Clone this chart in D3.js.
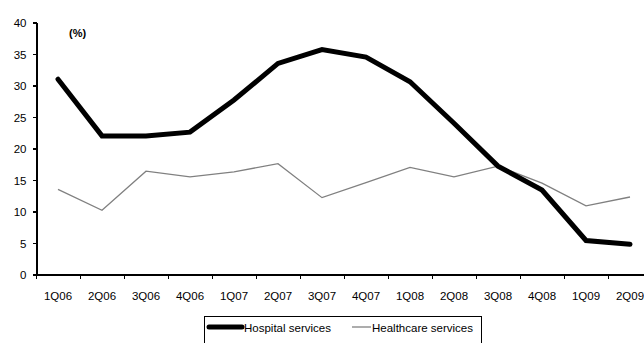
<!DOCTYPE html>
<html>
<head>
<meta charset="utf-8">
<script src="https://cdn.jsdelivr.net/npm/d3@7"></script>
<style>
  html, body { margin: 0; padding: 0; background: #fff; }
  svg { display: block; font-family: "Liberation Sans", Arial, sans-serif; }
  .axis text { font-size: 11.5px; fill: #000; }
  .axis path, .axis line { stroke: #000; stroke-width: 1.3px; shape-rendering: crispEdges; }
</style>
</head>
<body>
<svg id="chart" width="644" height="343"></svg>
<script>
// Quarterly growth, %
const quarters = ["1Q06","2Q06","3Q06","4Q06","1Q07","2Q07","3Q07","4Q07","1Q08","2Q08","3Q08","4Q08","1Q09","2Q09"];
const hospitalServices   = [31.0, 22.0, 22.0, 22.6, 27.7, 33.5, 35.7, 34.5, 30.6, 24.0, 17.2, 13.4, 5.4, 4.8];
const healthcareServices = [13.5, 10.2, 16.4, 15.5, 16.3, 17.6, 12.2, 14.6, 17.0, 15.5, 17.2, 14.5, 10.9, 12.3];
const yTicks = [0, 5, 10, 15, 20, 25, 30, 35, 40];
const seriesNames = ["Hospital services", "Healthcare services"];

const svg = d3.select("#chart");

const x = d3.scaleBand().domain(quarters).range([36, 652]).padding(0);
const xEdges = d3.scaleLinear().domain([0, quarters.length]).range([36, 652]);
const y = d3.scaleLinear().domain([0, 40]).range([274.5, 22.5]);

// Y axis
svg.append("g")
  .attr("class", "axis")
  .attr("transform", "translate(36.5,0)")
  .call(d3.axisLeft(y).tickValues(yTicks).tickSize(4).tickSizeOuter(0).tickPadding(6))
  .selectAll("text").attr("font-size", "12.5px").attr("dy", "0.36em");

// X axis line with ticks at category boundaries
svg.append("g")
  .attr("class", "axis")
  .attr("transform", "translate(0,274.5)")
  .call(d3.axisBottom(xEdges).tickValues(d3.range(quarters.length + 1)).tickSize(4).tickSizeOuter(0).tickFormat(""));

// X category labels
const xl = svg.append("g")
  .attr("class", "axis")
  .attr("transform", "translate(0,274.5)")
  .call(d3.axisBottom(x).tickSize(0).tickPadding(17));
xl.select(".domain").remove();

// Unit label
svg.append("text")
  .attr("x", 69).attr("y", 37)
  .attr("font-size", "11px").attr("font-weight", "bold")
  .text("(%)");

const line = d3.line()
  .x((d, i) => x(quarters[i]) + x.bandwidth() / 2)
  .y(d => y(d));

svg.append("path")
  .datum(healthcareServices)
  .attr("fill", "none")
  .attr("stroke", "#808080")
  .attr("stroke-width", 1.3)
  .attr("d", line);

svg.append("path")
  .datum(hospitalServices)
  .attr("fill", "none")
  .attr("stroke", "#000")
  .attr("stroke-width", 5)
  .attr("stroke-linejoin", "miter")
  .attr("stroke-linecap", "round")
  .attr("d", line);

// Legend
const legend = svg.append("g");
legend.append("rect")
  .attr("x", 204.5).attr("y", 316.5)
  .attr("width", 277).attr("height", 32)
  .attr("fill", "#fff").attr("stroke", "#000").attr("stroke-width", 1);

legend.append("line")
  .attr("x1", 209).attr("x2", 242).attr("y1", 327).attr("y2", 327)
  .attr("stroke", "#000").attr("stroke-width", 5).attr("stroke-linecap", "round");
legend.append("text")
  .attr("x", 244).attr("y", 331.5)
  .attr("font-size", "11.5px")
  .text(seriesNames[0]);

legend.append("line")
  .attr("x1", 352).attr("x2", 371).attr("y1", 327).attr("y2", 327)
  .attr("stroke", "#808080").attr("stroke-width", 1.3);
legend.append("text")
  .attr("x", 372).attr("y", 331.5)
  .attr("font-size", "11.5px")
  .text(seriesNames[1]);
</script>
</body>
</html>
